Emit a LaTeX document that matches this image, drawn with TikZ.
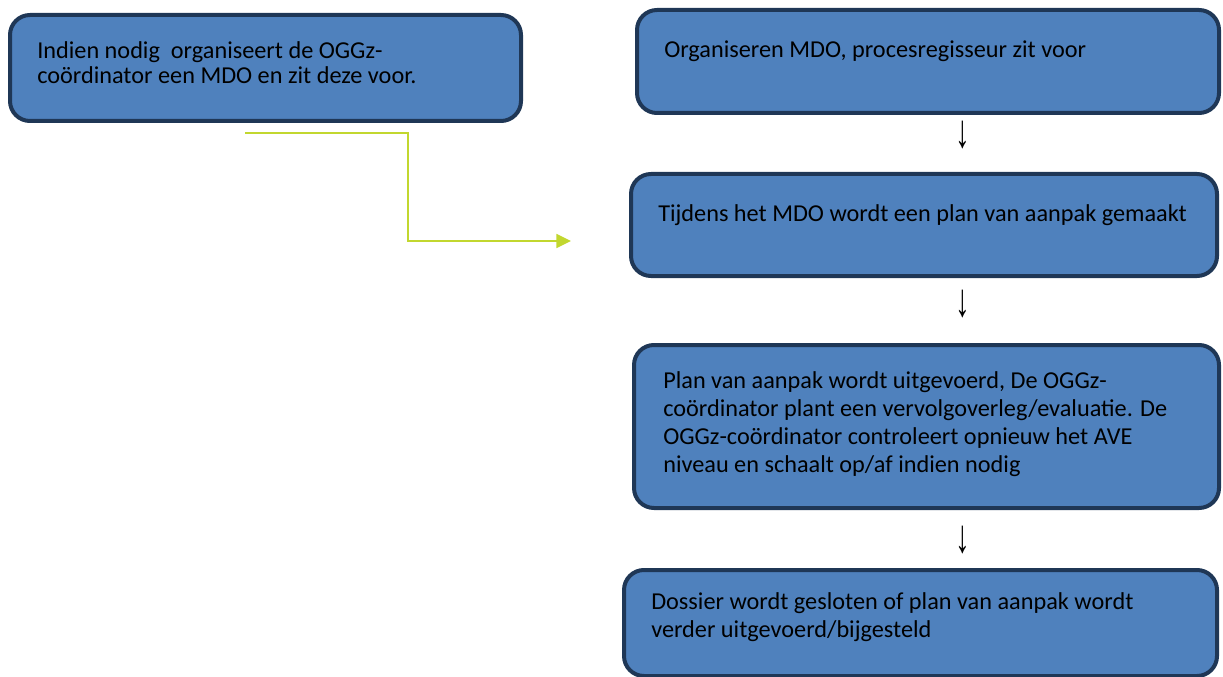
\documentclass[tikz,border=0pt]{standalone}
\usepackage{fontspec}
\usepackage{graphicx}
\setmainfont{Carlito}
\newfontfamily\arrowfont{Liberation Sans}
\usetikzlibrary{arrows.meta}
\definecolor{boxfill}{HTML}{4F81BD}
\definecolor{boxline}{HTML}{1F3756}
\definecolor{lime}{HTML}{C2D72F}
\tikzset{
  box/.style={draw=boxline, fill=boxfill, line width=3pt, rounded corners=15pt, rectangle, inner sep=0pt},
  txt/.style={font=\fontsize{18.2pt}{19pt}\selectfont, text=black, align=left, inner sep=0pt, anchor=west},
  txtwide/.style={txt, font=\fontsize{18.2pt}{21pt}\selectfont},
  downglyph/.style={font=\arrowfont\fontsize{22pt}{22pt}\selectfont, inner sep=0pt},
  limeline/.style={draw=lime, line width=1.2pt, -{Triangle[length=11pt, width=10.5pt]}}
}
\newcommand{\tallarrow}{\scalebox{1}[1.6]{↓}}
\begin{document}
\begin{tikzpicture}[x=0.75pt, y=-0.75pt]
\useasboundingbox (0,0) rectangle (1223,677);
% boxes
\node[box, minimum width=511*0.75pt, minimum height=106*0.75pt] (b1) at (265.5,68) {};
\node[box, minimum width=582*0.75pt, minimum height=103*0.75pt] (b2) at (928,61.5) {};
\node[box, minimum width=586*0.75pt, minimum height=102*0.75pt] (b3) at (924,225) {};
\node[box, minimum width=585*0.75pt, minimum height=163*0.75pt] (b4) at (926.5,426.5) {};
\node[box, minimum width=593*0.75pt, minimum height=106*0.75pt] (b5) at (920.5,623) {};
% texts
\node[txt] (t1) at (37,63) {Indien nodig\ \ organiseert de OGGz-\\coördinator een MDO en zit deze voor.};
\node[txt] (t2) at (664,51) {Organiseren MDO, procesregisseur zit voor};
\node[txt] (t3) at (658,215) {Tijdens het MDO wordt een plan van aanpak gemaakt};
\node[txtwide] (t4) at (663,424) {Plan van aanpak wordt uitgevoerd, De OGGz-\\coördinator plant een vervolgoverleg/evaluatie. De\\OGGz-coördinator controleert opnieuw het AVE\\niveau en schaalt op/af indien nodig};
\node[txtwide] (t5) at (651,617) {Dossier wordt gesloten of plan van aanpak wordt\\verder uitgevoerd/bijgesteld};
% down arrows (text glyphs)
\node[downglyph] (a1) at (963,135) {\tallarrow};
\node[downglyph] (a2) at (963,304) {\tallarrow};
\node[downglyph] (a3) at (963,540) {\tallarrow};
% green connector
\coordinate (g0) at (245,133);
\coordinate (g1) at (408,133);
\coordinate (g2) at (408,241);
\coordinate (g3) at (571,241);
\draw[limeline] (g0) -- (g1) -- (g2) -- (g3);
\end{tikzpicture}
\end{document}
